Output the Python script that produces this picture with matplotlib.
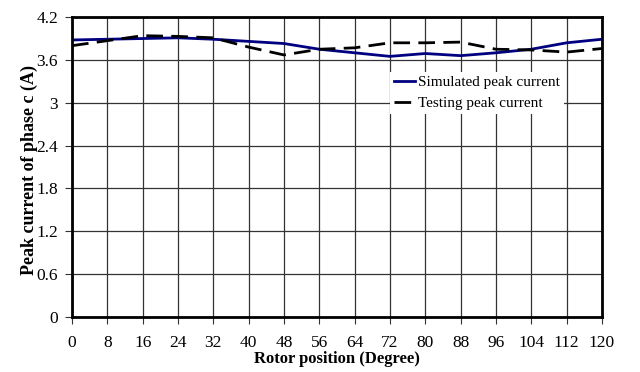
import matplotlib
matplotlib.use('Agg')
import matplotlib.pyplot as plt
import numpy as np

plt.rcParams['font.family'] = ['Liberation Serif', 'DejaVu Serif']

deg = [0, 8, 16, 24, 32, 40, 48, 56, 64, 72, 80, 88, 96, 104, 112, 120]
simulated = [3.88, 3.89, 3.90, 3.91, 3.89, 3.86, 3.83, 3.75, 3.70, 3.65, 3.69, 3.66, 3.70, 3.75, 3.84, 3.89]
testing = [3.80, 3.87, 3.94, 3.93, 3.91, 3.78, 3.67, 3.75, 3.77, 3.84, 3.84, 3.85, 3.75, 3.74, 3.71, 3.76]
yticks = [0, 0.6, 1.2, 1.8, 2.4, 3, 3.6, 4.2]
ylabels = ['0', '0.6', '1.2', '1.8', '2.4', '3', '3.6', '4.2']

fig = plt.figure(figsize=(6.4, 3.72), dpi=100)
ax = fig.add_axes([0.1125, 0.148, 0.828, 0.806])

ax.plot(deg, simulated, color='#000080', lw=2, label='Simulated peak current')
ax.plot(deg, testing, color='black', lw=2, ls=(0, (6, 3)), label='Testing peak current')

ax.set_xlim(0, 120)
ax.set_ylim(0, 4.2)
ax.set_xticks(np.arange(0, 121, 8))
ax.set_yticks(yticks)
ax.set_yticklabels(ylabels)
ax.grid(True, color='#333333', lw=0.9)
ax.tick_params(direction='out', length=5, width=0.8, labelsize=12.5, color='#333333')
ax.tick_params(axis='x', pad=8)
ax.tick_params(axis='y', pad=5)

for s in ax.spines.values():
    s.set_linewidth(2)
    s.set_color('black')

ax.set_xlabel('Rotor position (Degree)', fontsize=12, fontweight='bold', labelpad=0)
ax.set_ylabel('Peak current of phase c (A)', fontsize=13, fontweight='bold')
ax.yaxis.set_label_coords(-0.065, 0.49)

leg = ax.legend(loc='upper left', bbox_to_anchor=(0.586, 0.843), frameon=True, fontsize=11,
                handlelength=1.4, handletextpad=0.2, borderpad=0.25, labelspacing=0.45)
leg.get_frame().set_edgecolor('none')
leg.get_frame().set_facecolor('white')
leg.get_frame().set_alpha(1)
leg.get_frame().set_boxstyle('square', pad=0)

fig.savefig('out.png', dpi=100)
